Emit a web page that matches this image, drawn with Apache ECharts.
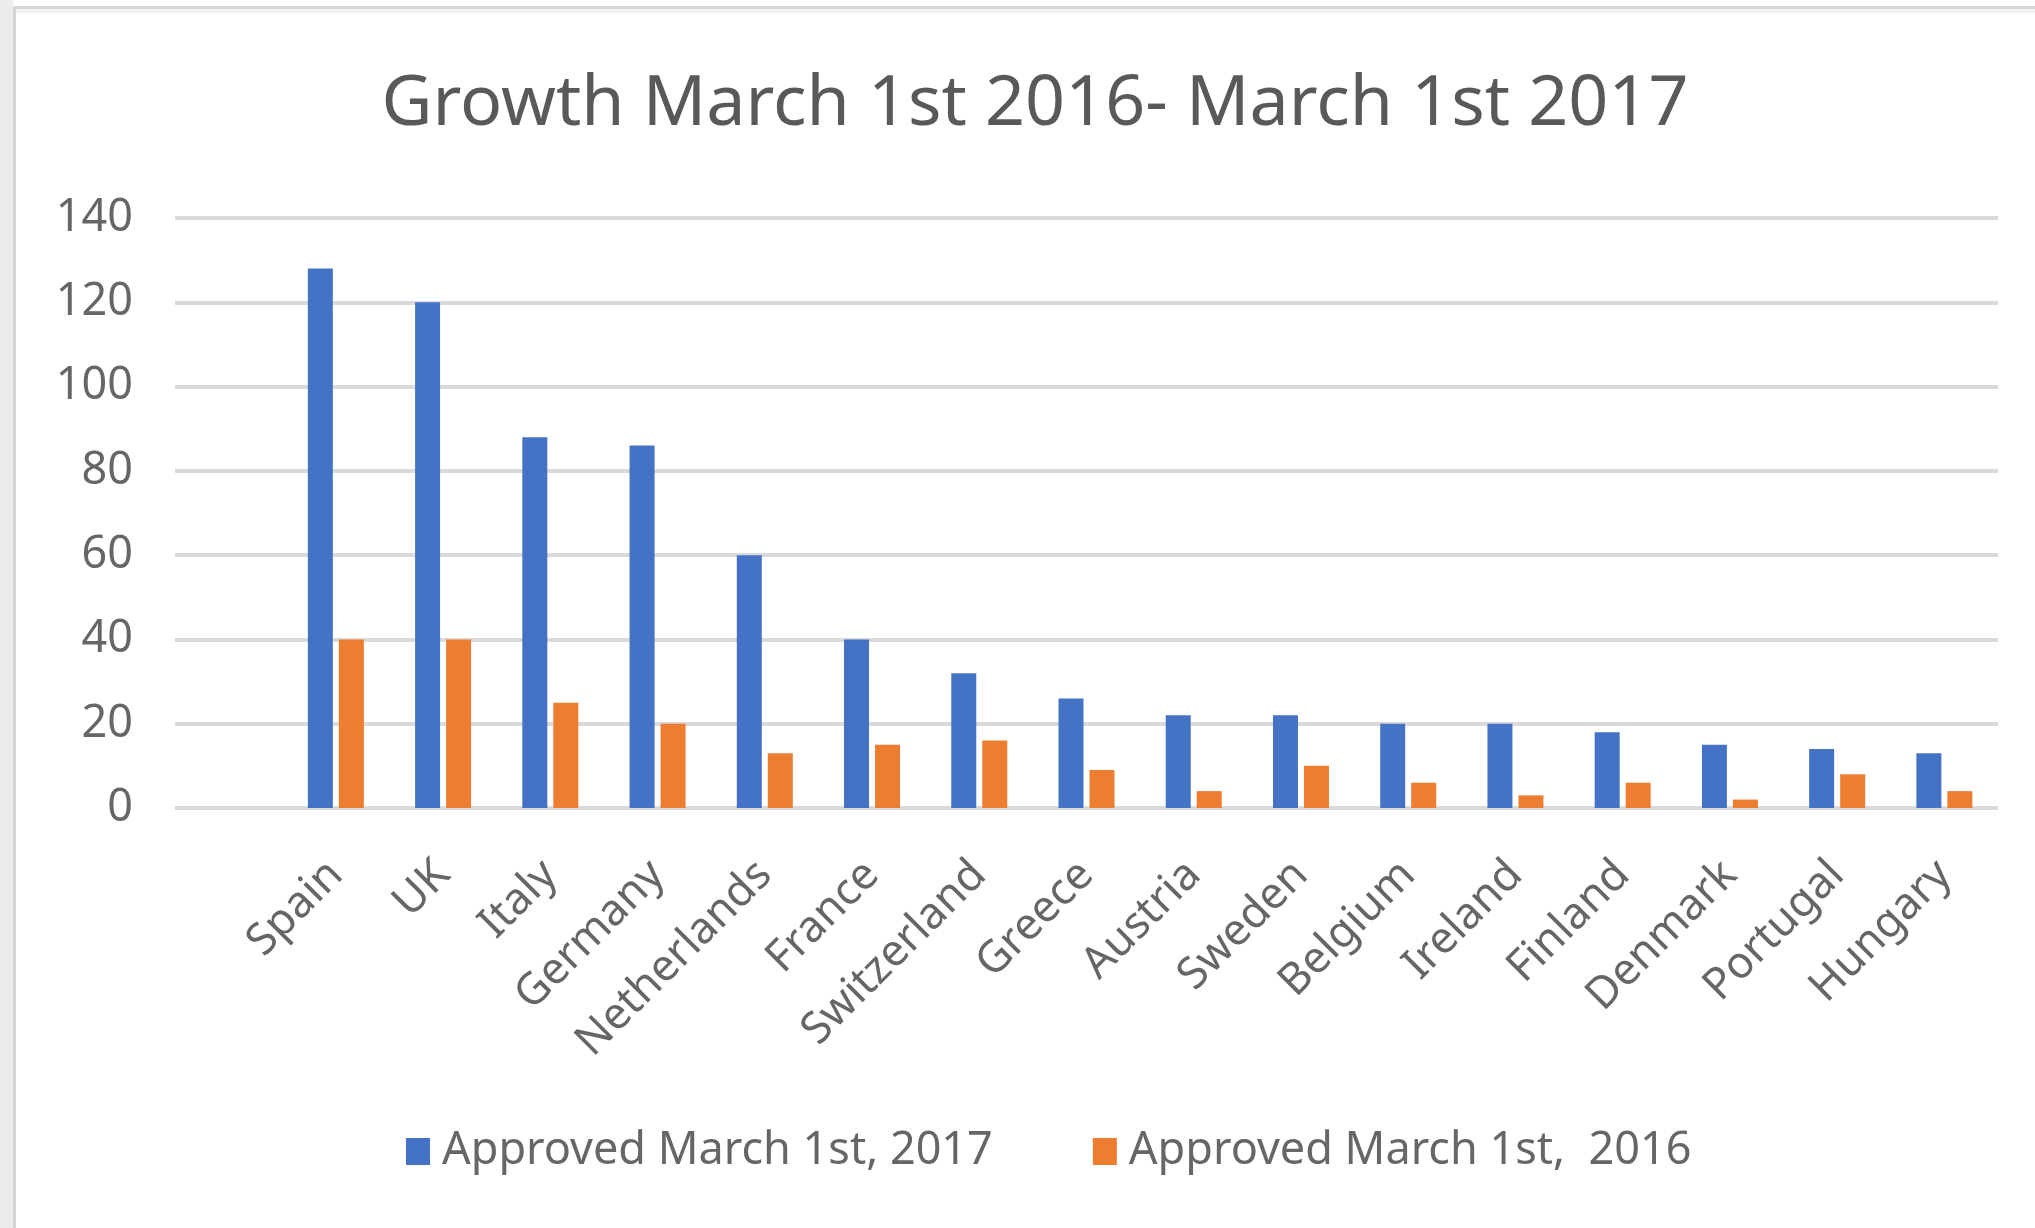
<!DOCTYPE html>
<html>
<head>
<meta charset="utf-8">
<script src="https://cdn.jsdelivr.net/npm/echarts@6/dist/echarts.min.js"></script>
<style>
  html, body { margin: 0; padding: 0; background: #fff; }
  #chart { width: 2035px; height: 1228px; }
</style>
</head>
<body>
<div id="chart"></div>
<script>
// first category is left blank in the original sheet
var countries = ['', 'Spain', 'UK', 'Italy', 'Germany', 'Netherlands', 'France', 'Switzerland',
  'Greece', 'Austria', 'Sweden', 'Belgium', 'Ireland', 'Finland', 'Denmark', 'Portugal', 'Hungary'];
var approved2017 = [null, 128, 120, 88, 86, 60, 40, 32, 26, 22, 22, 20, 20, 18, 15, 14, 13];
var approved2016 = [null, 40, 40, 25, 20, 13, 15, 16, 9, 4, 10, 6, 3, 6, 2, 8, 4];
var yTicks = [0, 20, 40, 60, 80, 100, 120, 140];

var myChart = echarts.init(document.getElementById('chart'));

var font = '"Noto Sans", "Open Sans", sans-serif';

option = {
    backgroundColor: '#fff',
    color: ['#4472C4', '#ED7D31'],
    title: {
        text: 'Growth March 1st 2016- March 1st 2017',
        left: 1035,
        textAlign: 'center',
        top: 70,
        padding: 0,
        textStyle: { fontFamily: font, fontSize: 70, fontWeight: 'normal', color: '#595959' }
    },
    legend: {
        left: 401,
        top: 1124,
        icon: 'rect',
        itemWidth: 24,
        itemHeight: 27,
        itemGap: 100,
        textStyle: { fontFamily: font, fontSize: 45, color: '#666', padding: [0, 0, 0, 7] },
        data: ['Approved March 1st, 2017', 'Approved March 1st,  2016']
    },
    graphic: [
        { type: 'rect', shape: { x: 0, y: 0, width: 13, height: 1228 }, style: { fill: '#ececec' }, silent: true },
        { type: 'line', shape: { x1: 14.5, y1: 6, x2: 14.5, y2: 1228 }, style: { stroke: '#d6d6d6', lineWidth: 3 }, silent: true },
        { type: 'line', shape: { x1: 13, y1: 7.5, x2: 2035, y2: 7.5 }, style: { stroke: '#d6d6d6', lineWidth: 3 }, silent: true },
        { type: 'line', shape: { x1: 16, y1: 11, x2: 2035, y2: 11 }, style: { stroke: '#f2f2f2', lineWidth: 4 }, silent: true }
    ],
    grid: { left: 175, right: 37, top: 218, bottom: 420, containLabel: false },
    xAxis: [{
        type: 'category',
        data: countries,
        axisLine: { show: false },
        axisTick: { show: false },
        axisLabel: {
            interval: 0,
            rotate: 45,
            margin: 60,
            fontFamily: font,
            fontSize: 44,
            color: '#666'
        }
    }],
    yAxis: [{
        type: 'value',
        min: yTicks[0],
        max: yTicks[yTicks.length - 1],
        interval: 20,
        axisLine: { show: false },
        axisTick: { show: false },
        axisLabel: { margin: 42, fontFamily: font, fontSize: 45, color: '#666' },
        splitLine: { lineStyle: { color: '#dadada', width: 4 } }
    }],
    series: [
        {
            name: 'Approved March 1st, 2017',
            type: 'bar',
            barWidth: 25,
            barGap: '24%',
            data: approved2017
        },
        {
            name: 'Approved March 1st,  2016',
            type: 'bar',
            barWidth: 25,
            barGap: '24%',
            data: approved2016
        }
    ]
};

myChart.setOption(option);
</script>
</body>
</html>
